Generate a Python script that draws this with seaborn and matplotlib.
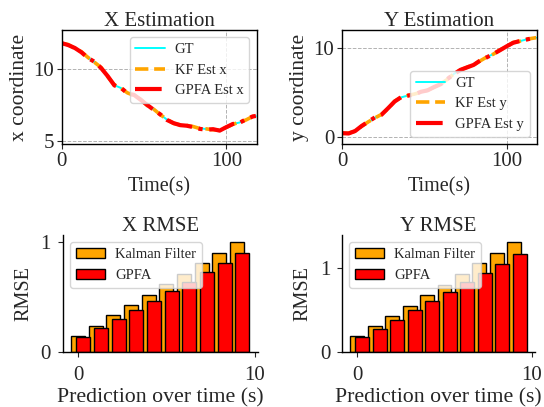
import numpy as np
import pandas as pd
import matplotlib
matplotlib.use("Agg")
import matplotlib.pyplot as plt
import seaborn as sns

# trajectory samples (seconds)
time_s = [0, 4, 8, 12, 16, 20, 24, 28, 32, 36, 40, 44, 48, 52, 56, 60,
          64, 68, 72, 76, 80, 84, 88, 92, 96, 100, 104, 108, 112, 116, 118]

gt_x = [11.8, 11.7, 11.5, 11.2, 10.8, 10.5, 10.1, 9.5, 8.9, 8.7, 8.35, 8.2,
        7.9, 7.5, 7.2, 6.85, 6.5, 6.25, 6.15, 6.1, 6.0, 5.9, 5.85, 5.82,
        5.78, 5.95, 6.2, 6.3, 6.5, 6.7, 6.75]
kf_x = [11.8, 11.72, 11.45, 11.22, 10.82, 10.48, 10.12, 9.48, 8.92, 8.68,
        8.36, 8.18, 7.92, 7.48, 7.22, 6.84, 6.52, 6.24, 6.14, 6.1, 6.02,
        5.88, 5.86, 5.8, 5.78, 5.96, 6.18, 6.32, 6.48, 6.72, 6.76]
gpfa_x = [11.82, 11.68, 11.48, 11.18, 10.78, 10.52, 10.08, 9.52, 8.88,
          8.72, 8.32, 8.22, 7.88, 7.52, 7.18, 6.86, 6.48, 6.26, 6.12, 6.08,
          5.98, 5.86, 5.8, 5.84, 5.74, 5.98, 6.2, 6.28, 6.52, 6.72, 6.76]

gt_y = [0.38, 0.38, 0.6, 1.2, 1.65, 2.15, 2.5, 3.2, 4.0, 4.45, 4.65, 4.8,
        5.05, 5.25, 5.6, 5.95, 6.5, 7.1, 7.55, 7.85, 8.1, 8.6, 9.0, 9.35,
        9.8, 10.2, 10.65, 10.8, 11.0, 11.15, 11.2]
kf_y = [0.36, 0.4, 0.62, 1.18, 1.68, 2.12, 2.52, 3.18, 4.02, 4.44, 4.66,
        4.82, 5.04, 5.26, 5.58, 5.96, 6.48, 7.12, 7.54, 7.86, 8.12, 8.58,
        9.02, 9.34, 9.82, 10.18, 10.66, 10.8, 11.02, 11.14, 11.2]
gpfa_y = [0.4, 0.36, 0.64, 1.22, 1.7, 2.18, 2.48, 3.22, 3.98, 4.48, 4.64,
          4.78, 5.08, 5.24, 5.62, 5.94, 6.52, 7.08, 7.56, 7.84, 8.12, 8.62,
          8.98, 9.36, 9.78, 10.22, 10.62, 10.82, 10.98, 11.16, 11.22]

# RMSE per prediction horizon (s)
horizon = [0, 1, 2, 3, 4, 5, 6, 7, 8, 9]
rmse_x_kf = [0.146, 0.235, 0.332, 0.427, 0.521, 0.616, 0.713, 0.808, 0.905, 1.0]
rmse_x_gpfa = [0.137, 0.216, 0.299, 0.381, 0.466, 0.555, 0.637, 0.726, 0.811, 0.899]
rmse_y_kf = [0.188, 0.304, 0.428, 0.552, 0.68, 0.804, 0.936, 1.06, 1.188, 1.312]
rmse_y_gpfa = [0.172, 0.272, 0.38, 0.496, 0.604, 0.716, 0.832, 0.94, 1.056, 1.168]

GPFA_SHIFT = 0.3

sns.set_theme(style="white")
plt.rcParams["font.family"] = ["Liberation Serif", "DejaVu Serif"]

fig = plt.figure(figsize=(5.44, 4.07), dpi=100)
W, H = 544, 407


def add_ax(left, top, right, bottom):
    return fig.add_axes([left / W, 1 - bottom / H, (right - left) / W, (bottom - top) / H])


def estimation_panel(ax, gt, kf, gpfa, axis, loc, ylim, yticks):
    df = pd.DataFrame({"t": time_s, "gt": gt, "kf": kf, "gpfa": gpfa})
    sns.lineplot(data=df, x="t", y="gt", ax=ax, color="cyan", lw=1.4, label="GT")
    sns.lineplot(data=df, x="t", y="kf", ax=ax, color="orange", lw=2.6,
                 linestyle="--", label=f"KF Est {axis}")
    sns.lineplot(data=df, x="t", y="gpfa", ax=ax, color="red", lw=3.0,
                 linestyle="-.", label=f"GPFA Est {axis}")
    ax.set_xlim(0, 118.5)
    ax.set_ylim(*ylim)
    ax.set_xticks([0, 100])
    ax.set_yticks(yticks)
    ax.grid(True, linestyle="--", color="gray", alpha=0.6, lw=0.7)
    for s in ax.spines.values():
        s.set_color("black")
        s.set_linewidth(1.0)
    ax.tick_params(axis="both", labelsize=15, length=3.5, left=True, bottom=True,
                   width=0.8, pad=2)
    ax.set_title(f"{axis.upper()} Estimation", fontsize=15, pad=3)
    ax.set_xlabel("Time(s)", fontsize=14.5, labelpad=5)
    ax.set_ylabel(f"{axis} coordinate", fontsize=15.5, labelpad=3)
    ax.legend(loc=loc, fontsize=10.5, framealpha=0.8, handlelength=2.0,
              handletextpad=0.7)


def rmse_panel(ax, kf, gpfa, title, yticks):
    xs_gpfa = [h + GPFA_SHIFT for h in horizon]
    sns.barplot(x=horizon, y=kf, ax=ax, native_scale=True, color="orange",
                saturation=1, edgecolor="black", linewidth=1, width=0.8,
                label="Kalman Filter")
    sns.barplot(x=xs_gpfa, y=gpfa, ax=ax, native_scale=True, color="red",
                saturation=1, edgecolor="black", linewidth=1, width=0.8,
                label="GPFA")
    ax.set_xlim(-0.87, 10.2)
    ax.set_xticks([0, 10])
    ax.set_yticks(yticks)
    sns.despine(ax=ax)
    for s in ["left", "bottom"]:
        ax.spines[s].set_color("black")
        ax.spines[s].set_linewidth(1.0)
    ax.tick_params(axis="both", labelsize=15, length=3.5, left=True, bottom=True,
                   width=0.8)
    ax.tick_params(axis="x", pad=7)
    ax.tick_params(axis="y", pad=5)
    ax.set_title(title, fontsize=15, pad=3)
    ax.set_xlabel("Prediction over time (s)", fontsize=15.7, labelpad=2)
    ax.set_ylabel("RMSE", fontsize=14.5, labelpad=5)
    ax.legend(loc="upper left", fontsize=10.5, framealpha=0.8, handlelength=2.0,
              handletextpad=0.7)


ax1 = add_ax(61.7, 30, 256.7, 144)
estimation_panel(ax1, gt_x, kf_x, gpfa_x, "x", "upper right", (4.81, 12.73), [5, 10])

ax2 = add_ax(342, 30, 537, 144)
estimation_panel(ax2, gt_y, kf_y, gpfa_y, "y", "lower right", (-0.83, 12.07), [0, 10])

ax3 = add_ax(62.7, 235, 258.3, 351.7)
rmse_panel(ax3, rmse_x_kf, rmse_x_gpfa, "X RMSE", [0, 1])
ax3.set_ylim(0, 1.067)

ax4 = add_ax(342, 235, 535.3, 351.7)
rmse_panel(ax4, rmse_y_kf, rmse_y_gpfa, "Y RMSE", [0, 1])
ax4.set_ylim(0, 1.4)

fig.savefig("out.png", dpi=100)
